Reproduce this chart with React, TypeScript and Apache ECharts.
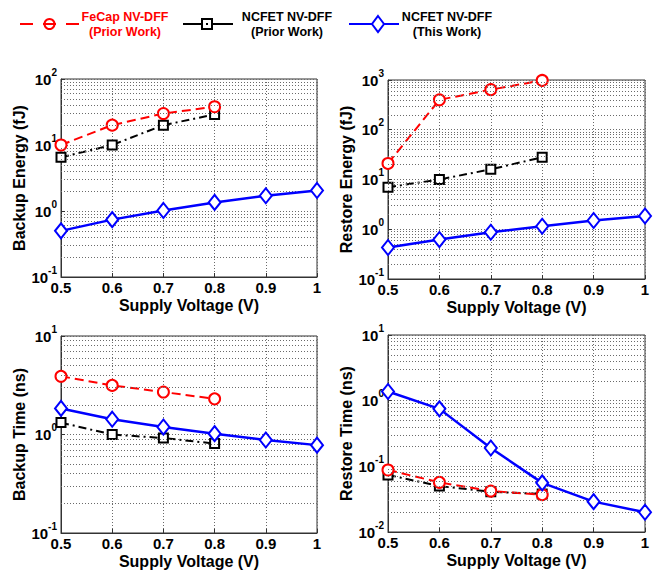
import React, { useEffect, useRef } from "react";
import * as echarts from "echarts";

const FONT = "'Liberation Sans', Arial, Helvetica, sans-serif";

const VOLT_ALL = [0.5, 0.6, 0.7, 0.8, 0.9, 1.0];
const VOLT_PRIOR = [0.5, 0.6, 0.7, 0.8];

const backupEnergyFeCap = [10, 20, 30, 38];
const backupEnergyNcfetPrior = [6.5, 10, 20, 29];
const backupEnergyThisWork = [0.5, 0.74, 1.02, 1.35, 1.7, 2.05];

const restoreEnergyFeCap = [21, 400, 640, 980];
const restoreEnergyNcfetPrior = [7, 10, 16, 28];
const restoreEnergyThisWork = [0.43, 0.62, 0.87, 1.15, 1.5, 1.85];

const backupTimeFeCap = [3.9, 3.15, 2.7, 2.3];
const backupTimeNcfetPrior = [1.32, 1.0, 0.92, 0.81];
const backupTimeThisWork = [1.84, 1.43, 1.19, 1.02, 0.88, 0.78];

const restoreTimeFeCap = [0.088, 0.057, 0.042, 0.037];
const restoreTimeNcfetPrior = [0.074, 0.05, 0.041, 0.038];
const restoreTimeThisWork = [1.38, 0.75, 0.19, 0.056, 0.029, 0.02];

const Y_TITLES = ["Backup Energy (fJ)", "Restore Energy (fJ)", "Backup Time (ns)", "Restore Time (ns)"];
const Y_MINS = [0.1, 0.1, 0.1, 0.01];
const Y_MAXS = [100, 1000, 10, 10];
const X_TITLE = "Supply Voltage (V)";
const MINOR_MULTIPLIERS = [2, 3, 4, 5, 6, 7, 8, 9];

const FECAP = [backupEnergyFeCap, restoreEnergyFeCap, backupTimeFeCap, restoreTimeFeCap];
const PRIOR = [backupEnergyNcfetPrior, restoreEnergyNcfetPrior, backupTimeNcfetPrior, restoreTimeNcfetPrior];
const THIS = [backupEnergyThisWork, restoreEnergyThisWork, backupTimeThisWork, restoreTimeThisWork];

const GRIDS = [
  { left: 61, top: 79, width: 256, height: 198 },
  { left: 388, top: 80, width: 257, height: 199 },
  { left: 61, top: 336, width: 256, height: 197 },
  { left: 388, top: 335, width: 257, height: 197 },
];
const Y_NAME_GAPS = [30, 34, 30, 34];

const RED = "#ff0000";
const BLUE = "#0000ff";
const BLACK = "#000000";
const GRID_COLOR = "#6a6a6a";

function minorValues(min: number, max: number): number[] {
  const out: number[] = [];
  const e0 = Math.round(Math.log10(min));
  const e1 = Math.round(Math.log10(max));
  for (let e = e0; e < e1; e++) {
    for (const m of MINOR_MULTIPLIERS) out.push(m * Math.pow(10, e));
  }
  return out;
}

export default function App() {
  const ref = useRef<HTMLDivElement>(null);
  useEffect(() => {
    if (!ref.current) return;
    const chart = echarts.init(ref.current, undefined, { renderer: "svg" });

    const xAxis: any[] = [];
    const yAxis: any[] = [];
    const series: any[] = [];
    GRIDS.forEach((g, i) => {
      xAxis.push({
        type: "value",
        gridIndex: i,
        min: 0.5,
        max: 1,
        interval: 0.1,
        name: X_TITLE,
        nameLocation: "middle",
        nameGap: 20,
        nameTextStyle: { fontFamily: FONT, fontWeight: "bold", fontSize: 16, color: BLACK },
        axisLine: { show: true, lineStyle: { color: "#333", width: 1 } },
        axisTick: { show: true, inside: true, length: 4, lineStyle: { color: "#333" } },
        axisLabel: {
          fontFamily: FONT,
          fontWeight: "bold",
          fontSize: 15,
          color: BLACK,
          margin: 3,
          formatter: (v: number) => String(+v.toFixed(1)),
        },
        splitLine: { show: true, lineStyle: { color: GRID_COLOR, type: [1, 2], width: 1 } },
      });
      yAxis.push({
        type: "log",
        logBase: 10,
        gridIndex: i,
        min: Y_MINS[i],
        max: Y_MAXS[i],
        name: Y_TITLES[i],
        nameLocation: "middle",
        nameGap: Y_NAME_GAPS[i],
        nameTextStyle: { fontFamily: FONT, fontWeight: "bold", fontSize: 16, color: BLACK },
        axisLine: { show: true, lineStyle: { color: "#333", width: 1 } },
        axisTick: { show: true, inside: true, length: 4, lineStyle: { color: "#333" } },
        axisLabel: {
          margin: 4,
          formatter: (v: number) => `{b|10}{s|${Math.round(Math.log10(v))}}`,
          rich: {
            b: { fontFamily: FONT, fontWeight: "bold", fontSize: 15, color: BLACK, lineHeight: 24, verticalAlign: "middle" },
            s: { fontFamily: FONT, fontWeight: "bold", fontSize: 10, color: BLACK, lineHeight: 8, verticalAlign: "top" },
          },
        },
        splitLine: { show: true, lineStyle: { color: GRID_COLOR, type: [1, 2], width: 1 } },
      });

      series.push({
        type: "line",
        xAxisIndex: i,
        yAxisIndex: i,
        data: [],
        silent: true,
        z: 1,
        markLine: {
          silent: true,
          animation: false,
          symbol: ["none", "none"],
          label: { show: false },
          lineStyle: { color: GRID_COLOR, type: [1, 2], width: 1 },
          emphasis: { disabled: true },
          data: minorValues(Y_MINS[i], Y_MAXS[i]).map((v) => ({ yAxis: v })),
        },
      });
      series.push({
        type: "line",
        name: "NCFET NV-DFF (Prior Work)",
        xAxisIndex: i,
        yAxisIndex: i,
        data: VOLT_PRIOR.map((x, j) => [x, PRIOR[i][j]]),
        symbol: "rect",
        symbolSize: 9,
        lineStyle: { color: BLACK, width: 2, type: [8, 4, 2, 4] },
        itemStyle: { color: "#fff", borderColor: BLACK, borderWidth: 2 },
        emphasis: { disabled: true },
        z: 3,
      });
      series.push({
        type: "line",
        name: "FeCap NV-DFF (Prior Work)",
        xAxisIndex: i,
        yAxisIndex: i,
        data: VOLT_PRIOR.map((x, j) => [x, FECAP[i][j]]),
        symbol: "circle",
        symbolSize: 11,
        lineStyle: { color: RED, width: 2, type: [9, 5] },
        itemStyle: { color: "#fff", borderColor: RED, borderWidth: 2 },
        emphasis: { disabled: true },
        z: 4,
      });
      series.push({
        type: "line",
        name: "NCFET NV-DFF (This Work)",
        xAxisIndex: i,
        yAxisIndex: i,
        data: VOLT_ALL.map((x, j) => [x, THIS[i][j]]),
        symbol: "diamond",
        symbolSize: [12, 15],
        lineStyle: { color: BLUE, width: 2.5 },
        itemStyle: { color: "#fff", borderColor: BLUE, borderWidth: 2 },
        emphasis: { disabled: true },
        z: 5,
      });
    });

    const legendText = (x: number, color: string, l1: string, l2: string) => ({
      type: "text",
      x,
      y: 24,
      style: {
        text: `${l1}\n${l2}`,
        fill: color,
        font: `bold 12.5px ${FONT}`,
        textAlign: "center",
        textVerticalAlign: "middle",
        lineHeight: 15,
      },
    });

    const graphic: any[] = [
      // FeCap
      { type: "line", shape: { x1: 20, y1: 24, x2: 33, y2: 24 }, style: { stroke: RED, lineWidth: 2 } },
      { type: "line", shape: { x1: 43, y1: 24, x2: 56, y2: 24 }, style: { stroke: RED, lineWidth: 2 } },
      { type: "line", shape: { x1: 66, y1: 24, x2: 79, y2: 24 }, style: { stroke: RED, lineWidth: 2 } },
      { type: "circle", shape: { cx: 49.5, cy: 24, r: 5 }, style: { fill: "#fff", stroke: RED, lineWidth: 2 } },
      { type: "line", shape: { x1: 44.5, y1: 24, x2: 54.5, y2: 24 }, style: { stroke: RED, lineWidth: 2 } },
      legendText(125, RED, "FeCap NV-DFF", "(Prior Work)"),
      // NCFET prior
      { type: "line", shape: { x1: 183, y1: 24, x2: 233, y2: 24 }, style: { stroke: BLACK, lineWidth: 2 } },
      { type: "rect", shape: { x: 202, y: 19, width: 10, height: 10 }, style: { fill: "#fff", stroke: BLACK, lineWidth: 2 } },
      { type: "rect", shape: { x: 206, y: 23, width: 2, height: 2 }, style: { fill: BLACK } },
      legendText(287, BLACK, "NCFET NV-DFF", "(Prior Work)"),
      // NCFET this work
      { type: "line", shape: { x1: 349, y1: 24, x2: 399, y2: 24 }, style: { stroke: BLUE, lineWidth: 2 } },
      {
        type: "polygon",
        shape: { points: [[378, 16], [384, 24], [378, 32], [372, 24]] },
        style: { fill: "#fff", stroke: BLUE, lineWidth: 2 },
      },
      legendText(447, BLACK, "NCFET NV-DFF", "(This Work)"),
    ];

    chart.setOption({
      animation: false,
      backgroundColor: "#fff",
      grid: GRIDS.map((g) => ({ ...g, show: true, borderColor: "#333", borderWidth: 1, backgroundColor: "transparent" })),
      xAxis,
      yAxis,
      series,
      graphic,
    });
    return () => chart.dispose();
  }, []);
  return <div ref={ref} style={{ position: "absolute", left: 0, top: 0, width: 659, height: 572 }} />;
}
